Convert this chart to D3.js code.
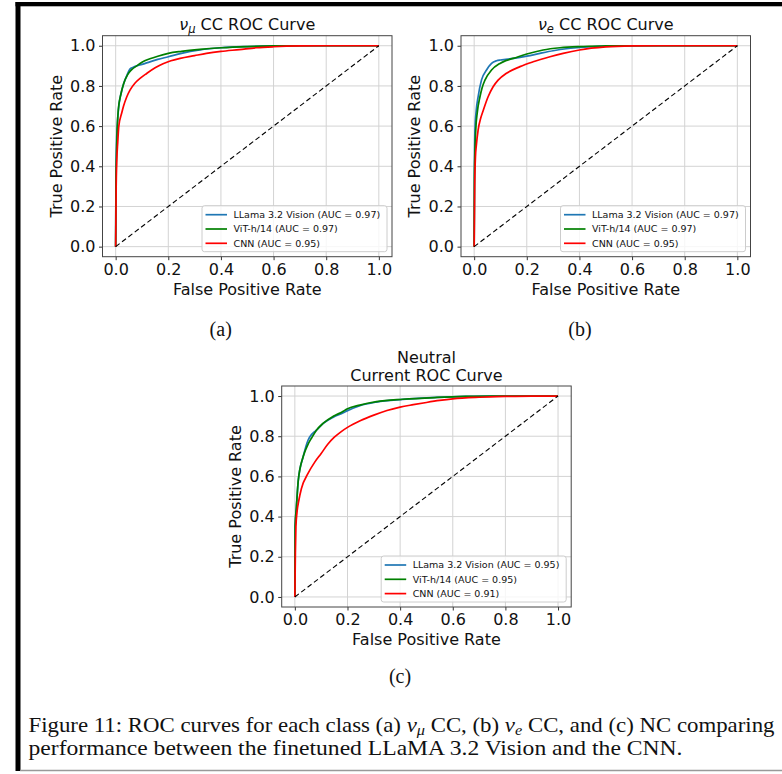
<!DOCTYPE html>
<html>
<head>
<meta charset="utf-8">
<script src="https://d3js.org/d3.v7.min.js"></script>
<style>
  body { margin: 0; background: #fff; }
  svg text { font-family: "DejaVu Sans", sans-serif; fill: #111; }
  svg text.serif { font-family: "Liberation Serif", "DejaVu Serif", serif; }
</style>
</head>
<body>
<svg id="fig" width="782" height="774"></svg>
<script>
// ---- data ----
var ticks = [0, 0.2, 0.4, 0.6, 0.8, 1.0];
var modelNames = ["LLama 3.2 Vision", "ViT-h/14", "CNN"];
var aucMu = [0.97, 0.97, 0.95];
var aucE = [0.97, 0.97, 0.95];
var aucNC = [0.95, 0.95, 0.91];

// [false positive rate, true positive rate]
var muLlama = [[0,0],[0.001,0.3],[0.003,0.5],[0.006,0.6],[0.012,0.7],[0.02,0.76],[0.03,0.81],[0.042,0.85],[0.05,0.875],[0.055,0.885],[0.065,0.892],[0.08,0.9],[0.1,0.907],[0.13,0.92],[0.16,0.932],[0.2,0.945],[0.25,0.962],[0.32,0.979],[0.4,0.99],[0.5,0.996],[0.6,0.999],[0.7,1],[1,1]];
var muVit = [[0,0],[0.001,0.3],[0.003,0.45],[0.005,0.55],[0.01,0.68],[0.02,0.76],[0.03,0.81],[0.045,0.855],[0.06,0.88],[0.08,0.9],[0.1,0.918],[0.13,0.935],[0.16,0.948],[0.2,0.962],[0.25,0.972],[0.32,0.982],[0.4,0.99],[0.5,0.996],[0.6,0.999],[0.7,1],[1,1]];
var muCnn = [[0,0],[0.002,0.3],[0.004,0.42],[0.008,0.52],[0.012,0.6],[0.023,0.665],[0.03,0.7],[0.042,0.745],[0.055,0.78],[0.073,0.813],[0.095,0.84],[0.118,0.862],[0.15,0.89],[0.18,0.91],[0.21,0.925],[0.245,0.937],[0.3,0.951],[0.345,0.962],[0.4,0.972],[0.47,0.981],[0.535,0.99],[0.6,0.995],[0.7,0.999],[0.8,1],[1,1]];

var eLlama = [[0,0],[0.001,0.35],[0.003,0.58],[0.008,0.68],[0.015,0.746],[0.028,0.83],[0.047,0.879],[0.066,0.912],[0.085,0.925],[0.1,0.929],[0.12,0.932],[0.15,0.937],[0.2,0.948],[0.25,0.962],[0.3,0.975],[0.35,0.985],[0.39,0.99],[0.45,0.995],[0.55,0.999],[0.65,1],[1,1]];
var eVit = [[0,0],[0.001,0.35],[0.006,0.58],[0.012,0.67],[0.022,0.746],[0.03,0.79],[0.041,0.829],[0.066,0.879],[0.098,0.912],[0.12,0.926],[0.148,0.937],[0.2,0.959],[0.262,0.979],[0.326,0.99],[0.4,0.996],[0.5,0.999],[0.6,1],[1,1]];
var eCnn = [[0,0],[0.002,0.3],[0.005,0.45],[0.008,0.5],[0.015,0.58],[0.025,0.64],[0.035,0.68],[0.053,0.746],[0.072,0.796],[0.091,0.829],[0.123,0.863],[0.174,0.896],[0.224,0.92],[0.288,0.945],[0.338,0.962],[0.4,0.979],[0.5,0.994],[0.6,0.999],[0.7,1],[1,1]];

var ncLlama = [[0,0],[0.001,0.35],[0.006,0.45],[0.013,0.58],[0.032,0.7],[0.05,0.78],[0.063,0.808],[0.072,0.82],[0.082,0.83],[0.108,0.864],[0.146,0.895],[0.184,0.917],[0.196,0.925],[0.247,0.952],[0.31,0.97],[0.41,0.983],[0.54,0.993],[0.65,0.998],[0.75,1],[1,1]];
var ncVit = [[0,0],[0.001,0.35],[0.006,0.45],[0.013,0.58],[0.032,0.7],[0.05,0.76],[0.063,0.79],[0.082,0.83],[0.108,0.865],[0.146,0.899],[0.184,0.924],[0.196,0.934],[0.247,0.955],[0.31,0.972],[0.41,0.984],[0.54,0.993],[0.65,0.998],[0.75,1],[1,1]];
var ncCnn = [[0,0],[0.002,0.22],[0.004,0.35],[0.008,0.42],[0.015,0.48],[0.025,0.54],[0.05,0.615],[0.075,0.67],[0.1,0.714],[0.125,0.76],[0.15,0.795],[0.175,0.822],[0.2,0.844],[0.25,0.878],[0.3,0.905],[0.35,0.928],[0.4,0.945],[0.45,0.957],[0.5,0.968],[0.55,0.978],[0.6,0.986],[0.7,0.994],[0.8,0.998],[0.9,1],[1,1]];

var colors = ["#1f77b4", "#008000", "#ff0000"];
var W = 289.5, H = 221;

var svg = d3.select("#fig");

// page frame
svg.append("rect").attr("x", 15.5).attr("y", 2).attr("width", 5).attr("height", 769).attr("fill", "#000");
svg.append("rect").attr("x", 15.5).attr("y", 2).attr("width", 767).attr("height", 4.3).attr("fill", "#000");
svg.append("line").attr("x1", 20).attr("x2", 782).attr("y1", 770.5).attr("y2", 770.5)
  .attr("stroke", "#999").attr("stroke-width", 1.5);

function drawPanel(left, top, titleFn, curves, aucs) {
  var g = svg.append("g").attr("transform", "translate(" + left + "," + top + ")");
  var x = d3.scaleLinear().domain([-0.05, 1.05]).range([0, W]);
  var y = d3.scaleLinear().domain([-0.05, 1.05]).range([H, 0]);

  // grid
  g.selectAll(".gx").data(ticks).enter().append("line")
    .attr("x1", d => x(d)).attr("x2", d => x(d)).attr("y1", 0).attr("y2", H)
    .attr("stroke", "#d3d3d3").attr("stroke-width", 1);
  g.selectAll(".gy").data(ticks).enter().append("line")
    .attr("y1", d => y(d)).attr("y2", d => y(d)).attr("x1", 0).attr("x2", W)
    .attr("stroke", "#d3d3d3").attr("stroke-width", 1);

  var line = d3.line().x(d => x(d[0])).y(d => y(d[1])).curve(d3.curveMonotoneX);
  curves.forEach(function (c, i) {
    g.append("path").datum(c).attr("d", line)
      .attr("fill", "none").attr("stroke", colors[i]).attr("stroke-width", 1.7)
      .attr("stroke-linejoin", "round");
  });
  g.append("path").datum([[0, 0], [1, 1]]).attr("d", line)
    .attr("fill", "none").attr("stroke", "#000").attr("stroke-width", 1.1)
    .attr("stroke-dasharray", "5,3");

  // axes
  var xa = g.append("g").attr("transform", "translate(0," + H + ")")
    .call(d3.axisBottom(x).tickValues(ticks).tickFormat(d3.format(".1f")).tickSize(3.5).tickPadding(3.5));
  var ya = g.append("g")
    .call(d3.axisLeft(y).tickValues(ticks).tickFormat(d3.format(".1f")).tickSize(3.5).tickPadding(3.5));
  [xa, ya].forEach(function (a) {
    a.select(".domain").remove();
    a.selectAll("line").attr("stroke", "#333");
    a.selectAll("text").attr("font-size", 16).attr("font-family", "DejaVu Sans").attr("fill", "#111");
  });
  g.append("rect").attr("width", W).attr("height", H).attr("fill", "none")
    .attr("stroke", "#444").attr("stroke-width", 1);

  g.append("text").attr("x", W / 2).attr("y", H + 38.3).attr("text-anchor", "middle")
    .attr("font-size", 16).text("False Positive Rate");
  g.append("text").attr("transform", "translate(-41," + H / 2 + ") rotate(-90)")
    .attr("text-anchor", "middle").attr("font-size", 16).text("True Positive Rate");

  titleFn(g);

  // legend
  var lw = 185, lh = 46;
  var lg = g.append("g").attr("transform", "translate(" + (W - 5 - lw) + "," + (H - 5 - lh) + ")");
  lg.append("rect").attr("width", lw).attr("height", lh).attr("rx", 2.5)
    .attr("fill", "#fff").attr("fill-opacity", 0.8).attr("stroke", "#ccc").attr("stroke-width", 1);
  modelNames.forEach(function (n, i) {
    var ry = 9 + i * 14.3;
    lg.append("line").attr("x1", 3.5).attr("x2", 25).attr("y1", ry).attr("y2", ry)
      .attr("stroke", colors[i]).attr("stroke-width", 1.7);
    lg.append("text").attr("x", 31.5).attr("y", ry).attr("dy", "0.35em")
      .attr("font-size", 9.5).text(n + " (AUC = " + d3.format(".2f")(aucs[i]) + ")");
  });
  return g;
}

function nuTitle(sub) {
  return function (g) {
    var t = g.append("text").attr("x", W / 2).attr("y", -5.7).attr("text-anchor", "middle").attr("font-size", 16);
    t.append("tspan").attr("font-style", "italic").text("\u03bd");
    t.append("tspan").attr("font-style", "italic").attr("font-size", 11.5).attr("dy", 3).text(sub);
    t.append("tspan").attr("dy", -3).text(" CC ROC Curve");
  };
}

drawPanel(102.5, 35.7, nuTitle("\u03bc"), [muLlama, muVit, muCnn], aucMu);
drawPanel(461, 35.7, nuTitle("e"), [eLlama, eVit, eCnn], aucE);
drawPanel(281.7, 386, function (g) {
  g.append("text").attr("x", W / 2).attr("y", -22.7).attr("text-anchor", "middle").attr("font-size", 16).text("Neutral");
  g.append("text").attr("x", W / 2).attr("y", -5).attr("text-anchor", "middle").attr("font-size", 16).text("Current ROC Curve");
}, [ncLlama, ncVit, ncCnn], aucNC);

// sub-figure labels
[["(a)", 220.7, 335.5], ["(b)", 580, 335.5], ["(c)", 400, 683]].forEach(function (p) {
  svg.append("text").attr("class", "serif").attr("x", p[1]).attr("y", p[2])
    .attr("text-anchor", "middle").attr("font-size", 20).text(p[0]);
});

// caption
var c1 = svg.append("text").attr("class", "serif").attr("x", 28.5).attr("y", 731.5).attr("font-size", 21)
  .attr("textLength", 746).attr("lengthAdjust", "spacingAndGlyphs");
c1.append("tspan").text("Figure 11: ROC curves for each class (a) ");
c1.append("tspan").attr("font-style", "italic").text("\u03bd");
c1.append("tspan").attr("font-style", "italic").attr("font-size", 15).attr("dy", 3).text("\u03bc");
c1.append("tspan").attr("dy", -3).text(" CC, (b) ");
c1.append("tspan").attr("font-style", "italic").text("\u03bd");
c1.append("tspan").attr("font-style", "italic").attr("font-size", 15).attr("dy", 3).text("e");
c1.append("tspan").attr("dy", -3).text(" CC, and (c) NC comparing");

svg.append("text").attr("class", "serif").attr("x", 28.5).attr("y", 755).attr("font-size", 21)
  .attr("textLength", 654).attr("lengthAdjust", "spacingAndGlyphs")
  .text("performance between the finetuned LLaMA 3.2 Vision and the CNN.");
</script>
</body>
</html>
